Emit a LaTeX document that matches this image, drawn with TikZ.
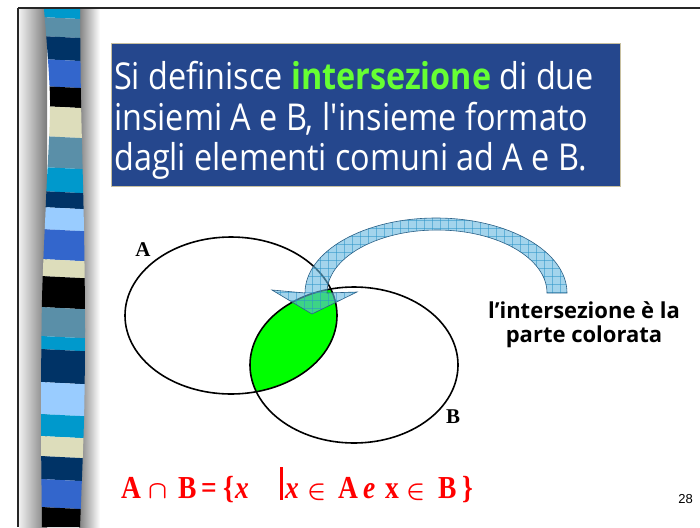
\documentclass[tikz,border=0pt]{standalone}
\usepackage{fontspec}
\usepackage{amsmath}
\setmainfont{Liberation Serif}
\newfontfamily\formfont[FakeStretch=0.86]{Liberation Serif}
\newfontfamily\titlefont[FakeStretch=0.875]{Open Sans}
\newfontfamily\labfont{Open Sans}
\newfontfamily\numfont{Liberation Sans}
\definecolor{titlebg}{HTML}{25478D}
\definecolor{titleedge}{HTML}{C8C0A0}
\definecolor{titlegreen}{HTML}{66FF33}
\definecolor{venngreen}{HTML}{00FF00}
\definecolor{arrowfill}{HTML}{66B8E0}
\definecolor{arrowgrid}{HTML}{2E95C8}
\definecolor{arrowline}{HTML}{2A5F85}
\definecolor{formred}{HTML}{FF0000}
\definecolor{scy}{HTML}{0099CC}
\definecolor{sst}{HTML}{5A8FA8}
\definecolor{snv}{HTML}{003366}
\definecolor{sry}{HTML}{3366CC}
\definecolor{sbk}{HTML}{000000}
\definecolor{sbg}{HTML}{DDDDBB}
\definecolor{slb}{HTML}{99CCFF}
\newcommand\fglyph[2]{\makebox[0pt][l]{\hspace*{#1pt}#2}}
\newcommand\fsym[1]{{\fontsize{28}{28}\selectfont$#1$}}
\tikzset{
  setline/.style={line width=1.6pt, black},
  setlabel/.style={font=\bfseries\fontsize{21}{21}\selectfont, inner sep=0pt},
  titleline/.style={anchor=base west, text=white, inner sep=0pt, font=\titlefont\fontsize{37}{40}\selectfont},
  notelabel/.style={anchor=base, inner sep=0pt, font=\labfont\bfseries\fontsize{22}{24}\selectfont},
}
\begin{document}
\begin{tikzpicture}[x=1pt,y=-1pt]
\useasboundingbox (0,0) rectangle (700,527);
\fill[white] (0,0) rectangle (700,527);
% shadows of the stripe
\shade[left color=black!6, right color=black!52] (19,9) rectangle (47,527);
\shade[left color=black!50, right color=white] (79,9) rectangle (100,527);
% stripe
\def\stripepath{plot[smooth] coordinates {(44,9) (50,100) (46,200) (42,300) (41,420) (42,527)} -- plot[smooth] coordinates {(80,527) (84,420) (85,330) (84,230) (81,100) (80,9)} -- cycle}
\begin{scope}
\clip \stripepath;
\foreach \ya/\yb/\c in {8/18/scy, 18/37/sst, 37/60/snv, 60/87/sry, 87/107/sbk, 107/137/sbg, 137/168/sst, 168/192/scy, 192/208/snv, 208/230/slb, 230/260/sry, 260/277/sbg, 277/308/sbk, 308/337/sst, 337/350/scy, 350/383/snv, 383/415/slb, 415/437/scy, 437/457/sbg, 457/480/snv, 480/508/sry, 508/530/sbk}
  \fill[\c] (30,\ya-1.5) -- (100,\ya+2) -- (100,\yb+2) -- (30,\yb-1.5) -- cycle;
\end{scope}
% frame
\draw[line width=2pt, black!85] (18,8) -- (700,8);
\draw[line width=2pt, black!85] (18,8) -- (18,527);
% title box
\node (titlebox) [anchor=north west, fill=titlebg, draw=titleedge, line width=0.5pt, minimum width=509pt, minimum height=143pt, inner sep=0pt] at (111,43) {};
\node (t1) [titleline] at (114,89) {Si definisce {\bfseries\color{titlegreen}intersezione} di due};
\node (t2) [titleline] at (114,130) {insiemi A e B, l\textquotesingle insieme formato};
\node (t3) [titleline] at (114,170) {dagli elementi comuni ad A e B.};
% Venn diagram
\coordinate (ca) at (231,315.5);
\coordinate (cb) at (354,365);
\begin{scope}
\clip (ca) ellipse [x radius=106pt, y radius=78.5pt];
\fill[venngreen] (cb) ellipse [x radius=104pt, y radius=78pt];
\end{scope}
\draw[setline] (ca) ellipse [x radius=106pt, y radius=78.5pt];
\draw[setline] (cb) ellipse [x radius=104pt, y radius=78pt];
\node (labA) [setlabel] at (143,250) {A};
\node (labB) [setlabel] at (453,417) {B};
% curved block arrow
\def\arrowpath{(567,293) arc[start angle=0, end angle=180, x radius=131pt, y radius=75pt] -- (272,290) -- (312,314) -- (357,292) -- (327,293) arc[start angle=180, end angle=0, x radius=110pt, y radius=63pt] -- cycle}
\fill[arrowfill, fill opacity=0.6] \arrowpath;
\begin{scope}
\clip \arrowpath;
\foreach \gx in {264,272,...,576} \draw[arrowgrid, opacity=0.55, line width=0.5pt] (\gx,210) -- (\gx,320);
\foreach \gy in {212,220,...,320} \draw[arrowgrid, opacity=0.55, line width=0.5pt] (260,\gy) -- (580,\gy);
\end{scope}
\draw[arrowline, line width=0.6pt] \arrowpath;
% note
\node (n1) [notelabel] at (584,318) {l’intersezione è la};
\node (n2) [notelabel] at (584,342) {parte colorata};
% formula
\node (formula) [anchor=base west, inner sep=0pt, text=formred, font=\formfont\bfseries\boldmath\fontsize{32}{32}\selectfont] at (121,498)
  {\makebox[354pt][l]{\fglyph{0}{A}\fglyph{27}{\fsym{\cap}}\fglyph{57}{B}\fglyph{80}{=}\fglyph{102}{\{}\fglyph{114}{\textit{x}}\fglyph{159}{\rule[-2pt]{2.5pt}{33pt}}\fglyph{164}{\textit{x}}\fglyph{186}{\fsym{\in}}\fglyph{217}{A}\fglyph{242}{\textit{e}}\fglyph{264}{x}\fglyph{285}{\fsym{\in}}\fglyph{317}{B}\fglyph{341}{\}}}};
% page number
\node (pnum) [anchor=base east, inner sep=0pt, font=\numfont\fontsize{13}{13}\selectfont] at (693,503) {28};
\end{tikzpicture}
\end{document}
